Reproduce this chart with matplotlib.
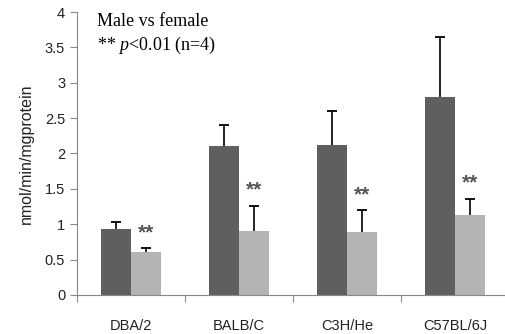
import matplotlib
matplotlib.use('Agg')
import matplotlib.pyplot as plt
import numpy as np

strains = ['DBA/2', 'BALB/C', 'C3H/He', 'C57BL/6J']
male = [0.93, 2.11, 2.12, 2.80]
male_err = [0.10, 0.29, 0.48, 0.85]
female = [0.61, 0.91, 0.89, 1.13]
female_err = [0.05, 0.35, 0.31, 0.23]
yticks = [0, 0.5, 1, 1.5, 2, 2.5, 3, 3.5, 4]

plt.rcParams['font.family'] = 'Liberation Sans'
plt.rcParams['mathtext.fontset'] = 'custom'
plt.rcParams['mathtext.rm'] = 'Liberation Serif'
plt.rcParams['mathtext.it'] = 'Liberation Serif:italic'

fig = plt.figure(figsize=(5.05, 3.34), dpi=100)
ax = fig.add_axes([0.1525, 0.117, 0.855, 0.847])

x = np.arange(len(strains))
w = 0.28


def upper_err(xs, vals, errs):
    # only the upper half of the error bar, with a cap on top
    tops = np.array(vals) + np.array(errs)
    ax.vlines(xs, vals, tops, color='black', lw=1.2)
    ax.plot(xs, tops, ls='none', marker='_', ms=7, mew=1.3, color='black')


ax.bar(x - w / 2, male, w, color='#5f5f5f')
ax.bar(x + w / 2, female, w, color='#b4b4b4')
upper_err(x - w / 2, male, male_err)
upper_err(x + w / 2, female, female_err)

# significance stars above the female bars
for xi, v, e in zip(x, female, female_err):
    ax.text(xi + w / 2, v + e + 0.22, '**', ha='center', va='center',
            fontsize=15, fontweight='bold', color='#555555')

ax.set_xlim(-0.5, 3.5)
ax.set_ylim(0, 4)
ax.set_yticks(yticks)
ax.set_yticklabels([f'{t:g}' for t in yticks], fontsize=10.5, color='#222222')
ax.set_xticks(np.arange(-0.5, 3.6, 1))
ax.set_xticklabels([])
ax.set_xticks(x, minor=True)
ax.set_xticklabels(strains, minor=True, fontsize=10.5, color='#222222')
ax.tick_params(axis='x', which='minor', length=0, pad=17)
ax.tick_params(axis='x', which='major', length=5, color='#888888', direction='out')
ax.tick_params(axis='y', length=5, color='#888888', direction='out')
for s in ['top', 'right']:
    ax.spines[s].set_visible(False)
for s in ['left', 'bottom']:
    ax.spines[s].set_color('#888888')
ax.set_ylabel('nmol/min/mgprotein', fontsize=11.5, color='#222222', labelpad=8)

fig.text(97 / 505, 1 - 22 / 334, 'Male vs female', family='Liberation Serif',
         fontsize=13, va='center')
fig.text(97 / 505, 1 - 45 / 334, r'** $\it{p}$<0.01 (n=4)', family='Liberation Serif',
         fontsize=13, va='center')

fig.savefig('out.png', dpi=100)
